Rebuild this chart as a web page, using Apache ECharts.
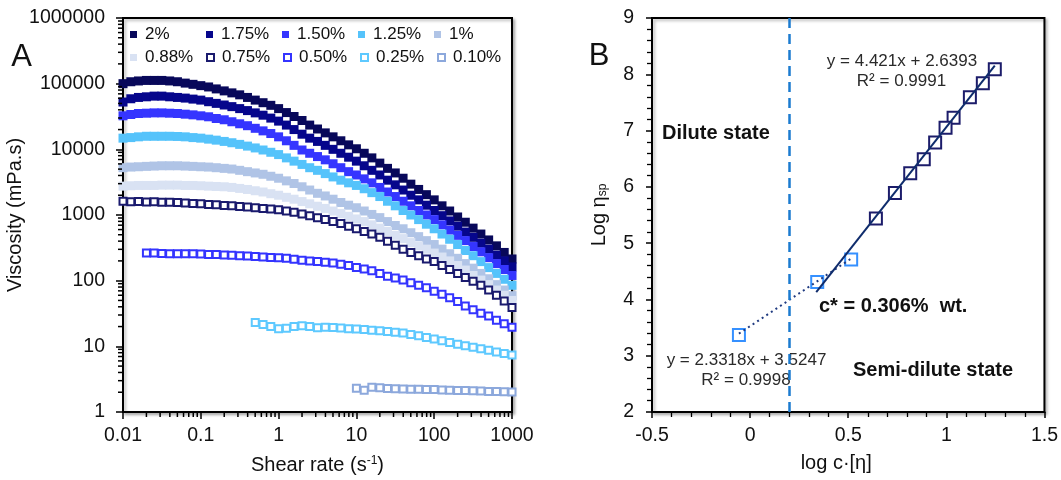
<!DOCTYPE html>
<html>
<head>
<meta charset="utf-8">
<script src="https://cdn.jsdelivr.net/npm/echarts@6/dist/echarts.min.js"></script>
<style>
html,body{margin:0;padding:0;background:#fff;}
#chart{width:1061px;height:480px;}
</style>
</head>
<body>
<div id="chart"></div>
<script>
// ---------- Panel A: viscosity vs shear rate ----------
const shearRate = [0.01,0.0126,0.0158,0.02,0.0251,0.0316,0.0398,0.0501,0.0631,0.0794,
  0.1,0.126,0.158,0.2,0.251,0.316,0.398,0.501,0.631,0.794,
  1,1.26,1.58,2,2.51,3.16,3.98,5.01,6.31,7.94,
  10,12.6,15.8,20,25.1,31.6,39.8,50.1,63.1,79.4,
  100,126,158,200,251,316,398,501,631,794,1000];

const visc2 = [100000,107000,110000,112000,112000,112000,110000,107000,102000,97700,
  93300,89100,83200,77600,72400,67600,61700,56200,51300,46800,
  41700,36300,31600,27500,23400,20400,17800,15500,13500,11700,
  10200,8710,7410,6170,5130,4370,3630,2950,2450,2040,
  1700,1380,1150,933,776,631,513,417,339,269,214];
const visc175 = [52500,58900,61700,63100,64600,64600,63100,61700,60300,58200,
  56200,53100,50100,47300,44700,41700,38900,35900,33100,29900,
  26900,23400,20000,17000,14800,13200,11500,10000,8710,7590,
  6610,5620,4790,4070,3390,2880,2400,2000,1700,1410,
  1170,977,813,676,550,457,372,302,245,200,162];
const visc150 = [32400,33900,35100,35500,35900,35900,35500,35100,34300,33500,
  32400,31300,29500,28200,26300,24500,22900,20900,19100,17400,
  15500,13500,11500,9770,8710,7760,6920,6030,5250,4570,
  4070,3550,3090,2630,2240,1910,1620,1380,1170,1000,
  851,708,589,490,407,331,275,224,182,148,120];
const visc125 = [14800,15100,15500,15800,15800,15800,15800,15700,15500,15100,
  14800,14300,13800,13200,12600,11900,11200,10500,9770,9020,
  8320,7410,6610,5890,5250,4790,4270,3800,3390,3090,
  2820,2510,2190,1910,1620,1380,1170,1000,851,724,
  617,513,427,355,288,240,195,158,129,105,85];
const visc100 = [5250,5370,5430,5500,5560,5620,5620,5620,5560,5500,
  5430,5370,5250,5130,5010,4790,4570,4370,4170,3890,
  3630,3310,3020,2690,2400,2140,1950,1740,1550,1410,
  1290,1150,1020,912,794,692,617,537,468,407,
  355,302,257,219,182,155,129,107,87,72,59];
const visc088 = [2750,2790,2820,2820,2820,2850,2850,2850,2820,2820,
  2790,2750,2720,2690,2630,2540,2450,2340,2240,2110,
  2000,1860,1740,1600,1480,1360,1260,1150,1050,955,
  871,794,708,631,562,490,437,380,339,302,
  263,229,200,170,145,120,102,87,72,60,50];
const visc075 = [1620,1590,1610,1580,1585,1560,1560,1545,1520,1500,
  1480,1450,1430,1400,1380,1350,1320,1290,1260,1230,
  1200,1150,1100,1040,977,912,851,794,741,676,
  617,562,513,457,398,347,302,269,240,214,
  195,170,148,129,112,98,85,72,60,49,39];
// 0.50% starts at 0.02 s-1, 0.25% at 0.5 s-1, 0.10% at 10 s-1
const visc050 = [263,263,260,257,257,257,257,
  254,251,251,245,243,240,237,234,229,226,
  224,219,211,204,200,195,191,186,178,170,
  158,151,141,129,117,110,102,93,85,78,
  69,62,55,48,41,36,32,29,25,22,19.5];
const visc025 = [23,21.5,20,
  18.5,18.8,20,20.5,20,19.2,19.5,19.3,19,18.6,
  18.3,18,17.5,17.2,16.8,16.4,16,15.2,14.5,13.6,
  12.9,12.2,11.4,10.8,10.2,9.7,9.2,8.7,8.2,7.8,7.4];
const visc010 = [2.3,2.15,2.38,2.35,2.28,2.25,2.24,2.23,2.22,2.21,
  2.2,2.17,2.15,2.13,2.12,2.1,2.08,2.06,2.05,2.03,2.02];

const concLabels = ['2%','1.75%','1.50%','1.25%','1%','0.88%','0.75%','0.50%','0.25%','0.10%'];
const viscSets = [visc2,visc175,visc150,visc125,visc100,visc088,visc075,visc050,visc025,visc010];
const xTickLabelsA = ['0.01','0.1','1','10','100','1000'];
const yTickLabelsA = ['1','10','100','1000','10000','100000','1000000'];

// ---------- Panel B: log eta_sp vs log c[eta] ----------
const logCSemi   = [1.247,1.186,1.120,1.037,0.996,0.943,0.885,0.816,0.738,0.641];
const logEtaSemi = [8.09,7.84,7.59,7.23,7.05,6.79,6.49,6.24,5.89,5.44];
const logCDil    = [0.515,0.342,-0.057];
const logEtaDil  = [4.71,4.31,3.37];
const fitSemiX = [0.337,1.247];
const fitSemiY = [4.129,8.152];
const fitDilX  = [-0.057,0.515];
const fitDilY  = [3.392,4.726];
const cStarLogC = 0.2;

// ---------- styles ----------
const FONT = '"Liberation Sans", Arial, sans-serif';
const seriesColors = ['#08085a','#06068c','#3535ff','#55c3fb','#b0c4e6','#d9e2f3',
  '#1a1a6e','#3434ff','#5ec9ff','#8ca8dc'];
const hollow = [false,false,false,false,false,false,true,true,true,true];

const chart = echarts.init(document.getElementById('chart'), null, {renderer:'canvas'});

function zip(xs, ys){
  const off = xs.length - ys.length;
  return ys.map((v,i)=>[xs[i+off], v]);
}

const seriesA = concLabels.map((name,i)=>({
  name: name,
  type: 'scatter',
  xAxisIndex: 0, yAxisIndex: 0,
  symbol: hollow[i] ? 'emptyRect' : 'rect',
  symbolSize: hollow[i] ? 7 : 9,
  itemStyle: hollow[i] ? {color: seriesColors[i], borderColor: seriesColors[i], borderWidth: 1.2, opacity: 1}
                       : {color: seriesColors[i], borderWidth: 0, opacity: 1},
  data: zip(shearRate, viscSets[i]),
  silent: true,
  z: 3
}));

// minor ticks (2..9 within each decade) of the two log axes
const minorXVals = [], minorYVals = [];
for (let d = 0.01; d < 999; d *= 10) for (let m = 2; m <= 9; m++) minorXVals.push(+(d*m).toPrecision(3));
for (let d = 1; d < 999999; d *= 10) for (let m = 2; m <= 9; m++) minorYVals.push(+(d*m).toPrecision(3));

const minorTickSeries = [
  {type:'custom', xAxisIndex:0, yAxisIndex:0, silent:true, clip:false, z:10,
   data: minorXVals.map(v => [v, 1]),
   renderItem: (params, api) => {
     const pt = api.coord([api.value(0), api.value(1)]);
     return {type:'line', shape:{x1:pt[0], y1:pt[1]+1, x2:pt[0], y2:pt[1]+5},
             style:{stroke:'#000', lineWidth:1.5}};
   }},
  {type:'custom', xAxisIndex:0, yAxisIndex:0, silent:true, clip:false, z:10,
   data: minorYVals.map(v => [0.01, v]),
   renderItem: (params, api) => {
     const pt = api.coord([api.value(0), api.value(1)]);
     return {type:'line', shape:{x1:pt[0]-1, y1:pt[1], x2:pt[0]-5, y2:pt[1]},
             style:{stroke:'#000', lineWidth:1.5}};
   }}
];

const seriesB = [
  {name:'dilute', type:'scatter', xAxisIndex:1, yAxisIndex:1, symbol:'emptyRect', symbolSize:12,
   itemStyle:{color:'#3590ff', borderColor:'#3590ff', borderWidth:1.6, opacity:1},
   data: zip(logCDil, logEtaDil), z:3, silent:true,
   markLine:{silent:true, symbol:'none', label:{show:false},
     lineStyle:{color:'#1b7bd0', width:2.5, type:[10,6]},
     data:[{xAxis: cStarLogC}]}},
  {name:'semi', type:'scatter', xAxisIndex:1, yAxisIndex:1, symbol:'emptyRect', symbolSize:12,
   itemStyle:{color:'#1c1c6a', borderColor:'#1c1c6a', borderWidth:1.6, opacity:1},
   data: zip(logCSemi, logEtaSemi), z:3, silent:true},
  {name:'fitDil', type:'line', xAxisIndex:1, yAxisIndex:1, symbol:'none', silent:true, z:4,
   lineStyle:{color:'#1f3a80', width:2, type:[2,3.5]},
   data: zip(fitDilX, fitDilY)},
  {name:'fitSemi', type:'line', xAxisIndex:1, yAxisIndex:1, symbol:'none', silent:true, z:4,
   lineStyle:{color:'#0f2c6c', width:2},
   data: zip(fitSemiX, fitSemiY)}
];

const axisTextStyle = {fontSize:19.5, color:'#111', fontFamily:FONT};
const nameStyle = {fontSize:20, color:'#111', fontFamily:FONT};
const gridFrame = {show:true, backgroundColor:'#fff', borderColor:'#000', borderWidth:2,
  shadowColor:'rgba(0,0,0,0.28)', shadowBlur:3, shadowOffsetX:2, shadowOffsetY:2};

const textGraphics = [
  {type:'text', x:21.5, y:57.5, silent:true, style:{text:'A', fontSize:31, fontFamily:FONT, fill:'#111', align:'center', verticalAlign:'middle'}},
  {type:'text', x:599, y:56.5, silent:true, style:{text:'B', fontSize:31, fontFamily:FONT, fill:'#111', align:'center', verticalAlign:'middle'}},
  {type:'text', x:902, y:61.7, silent:true, style:{text:'y = 4.421x + 2.6393', fontSize:17, fontFamily:FONT, fill:'#2a2a2a', align:'center', verticalAlign:'middle'}},
  {type:'text', x:901.5, y:81.7, silent:true, style:{text:'R² = 0.9991', fontSize:17, fontFamily:FONT, fill:'#2a2a2a', align:'center', verticalAlign:'middle'}},
  {type:'text', x:746.5, y:360, silent:true, style:{text:'y = 2.3318x + 3.5247', fontSize:17, fontFamily:FONT, fill:'#2a2a2a', align:'center', verticalAlign:'middle'}},
  {type:'text', x:746, y:380, silent:true, style:{text:'R² = 0.9998', fontSize:17, fontFamily:FONT, fill:'#2a2a2a', align:'center', verticalAlign:'middle'}},
  {type:'text', x:662, y:133.3, silent:true, style:{text:'Dilute state', fontSize:20, fontWeight:'bold', fontFamily:FONT, fill:'#111', align:'left', verticalAlign:'middle'}},
  {type:'text', x:853, y:370, silent:true, style:{text:'Semi-dilute state', fontSize:20, fontWeight:'bold', fontFamily:FONT, fill:'#111', align:'left', verticalAlign:'middle'}},
  {type:'text', x:819, y:306.7, silent:true, style:{text:'c* = 0.306%  wt.', fontSize:20, fontWeight:'bold', fontFamily:FONT, fill:'#111', align:'left', verticalAlign:'middle'}}
];

const option = {
  animation: false,
  backgroundColor: '#fff',
  textStyle: {fontFamily: FONT},
  grid: [
    Object.assign({left:123, top:18, width:389, height:395}, gridFrame),
    Object.assign({left:652, top:18, width:393, height:394}, gridFrame)
  ],
  legend: {
    data: concLabels,
    left: 130, top: 23, width: 400, padding: 0,
    itemGap: 0, itemWidth: 7, itemHeight: 7,
    selectedMode: false,
    textStyle: {fontSize:17, color:'#111', fontFamily:FONT, width:61, padding:[0,0,0,3], lineHeight:23}
  },
  xAxis: [
    {gridIndex:0, type:'log', logBase:10, min:0.01, max:1000, splitNumber:5,
     axisLine:{show:true, lineStyle:{color:'#000', width:2}},
     axisTick:{show:true, length:7, lineStyle:{color:'#000', width:1.5}},
     axisLabel:Object.assign({margin:14, formatter:(v)=>{
        const i = Math.round(Math.log10(v)) + 2; return xTickLabelsA[i] || ''; }}, axisTextStyle),
     splitLine:{show:false},
     name:'Shear rate (s{sup|-1})', nameLocation:'middle', nameGap:43,
     nameTextStyle:Object.assign({rich:{sup:{fontSize:12, verticalAlign:'top', color:'#111', fontFamily:FONT, padding:[0,0,6,0]}}}, nameStyle)},
    {gridIndex:1, type:'value', min:-0.5, max:1.5, interval:0.5,
     axisLine:{show:true, onZero:false, lineStyle:{color:'#000', width:2}},
     axisTick:{show:true, length:6, lineStyle:{color:'#000', width:1.5}},
     minorTick:{show:true, splitNumber:5, length:5, lineStyle:{color:'#000', width:1.3}},
     axisLabel:Object.assign({margin:14}, axisTextStyle),
     splitLine:{show:false},
     name:'log c·[η]', nameLocation:'middle', nameGap:41,
     nameTextStyle:Object.assign({padding:[0,24,0,0]}, nameStyle)}
  ],
  yAxis: [
    {gridIndex:0, type:'log', logBase:10, min:1, max:1000000, splitNumber:6,
     axisLine:{show:true, lineStyle:{color:'#000', width:2}},
     axisTick:{show:true, length:7, lineStyle:{color:'#000', width:1.5}},
     axisLabel:Object.assign({margin:18, formatter:(v)=>{
        const i = Math.round(Math.log10(v)); return yTickLabelsA[i] || ''; }}, axisTextStyle),
     splitLine:{show:false},
     name:'Viscosity (mPa.s)', nameLocation:'middle', nameGap:84, nameTextStyle:nameStyle},
    {gridIndex:1, type:'value', min:2, max:9, interval:1,
     axisLine:{show:true, onZero:false, lineStyle:{color:'#000', width:2}},
     axisTick:{show:true, length:6, lineStyle:{color:'#000', width:1.5}},
     minorTick:{show:true, splitNumber:5, length:5, lineStyle:{color:'#000', width:1.3}},
     axisLabel:Object.assign({margin:18}, axisTextStyle),
     splitLine:{show:false},
     name:'Log η{sub|sp}', nameLocation:'middle', nameGap:43,
     nameTextStyle:Object.assign({rich:{sub:{fontSize:12, verticalAlign:'bottom', color:'#111', fontFamily:FONT, padding:[6,0,0,0]}}}, nameStyle)}
  ],
  graphic: textGraphics,
  series: seriesA.concat(minorTickSeries, seriesB)
};
chart.setOption(option);
</script>
</body>
</html>
